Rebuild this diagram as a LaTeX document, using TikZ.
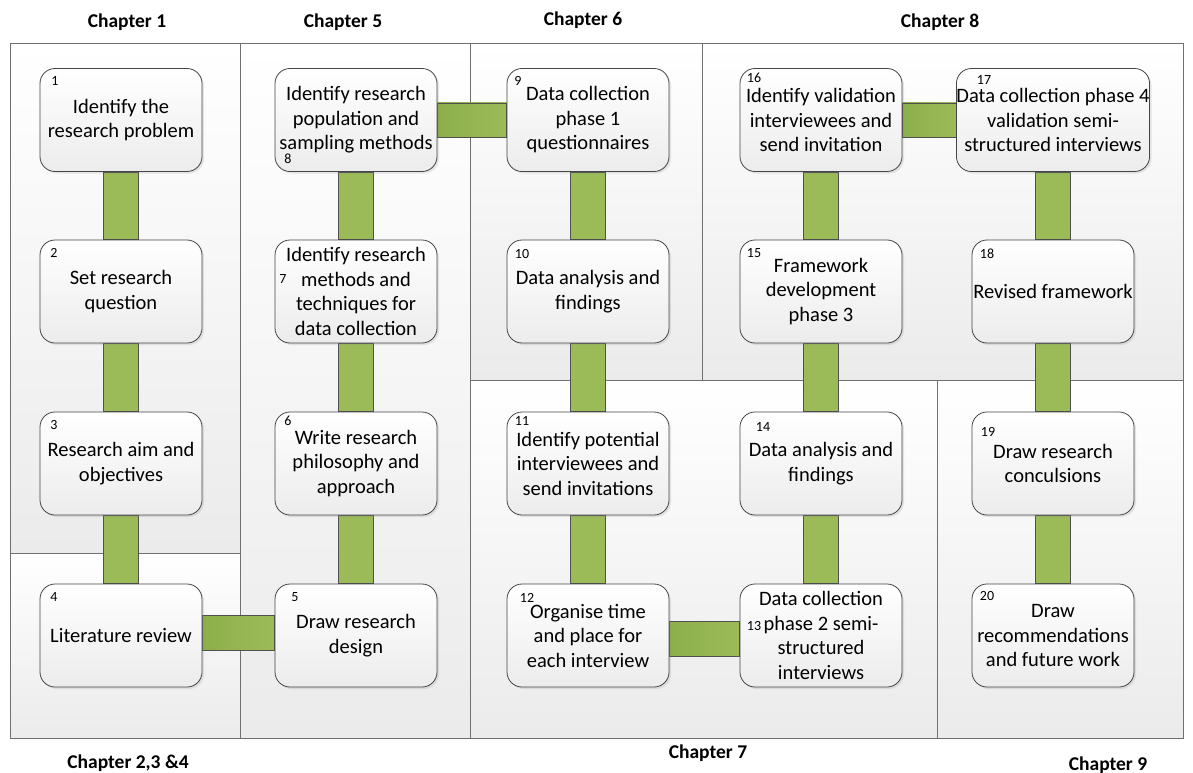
\documentclass[tikz,border=0pt]{standalone}
\usepackage{fontspec}
\setmainfont{Carlito}
\usetikzlibrary{calc,shadows}
\definecolor{panelline}{HTML}{707070}
\definecolor{panelgray}{HTML}{EBEBEB}
\definecolor{boxline}{HTML}{454545}
\definecolor{boxgray}{HTML}{ECECEC}
\definecolor{bargreen}{HTML}{9BBB59}
\definecolor{bardark}{HTML}{8DAF4A}
\definecolor{barline}{HTML}{505050}
\pgfdeclarelayer{panels}
\pgfdeclarelayer{bars}
\pgfsetlayers{panels,bars,main}
\tikzset{
  panel/.style={draw=panelline, line width=0.9pt, top color=white, bottom color=panelgray},
  stepbox/.style={draw=boxline, line width=0.8pt, rounded corners=15pt,
    minimum width=162pt, minimum height=103pt, inner sep=0pt,
    top color=white, bottom color=boxgray,
    drop shadow={opacity=0.18, shadow xshift=2pt, shadow yshift=-2pt},
    font=\fontsize{20.5}{24.5}\selectfont, align=center},
  num/.style={font=\fontsize{14}{16}\selectfont, inner sep=0pt},
  chap/.style={font=\bfseries\fontsize{19.5}{22}\selectfont, inner sep=0pt},
  vbar/.style={draw=barline, line width=0.8pt, fill=bargreen},
  hbar/.style={draw=barline, line width=0.8pt, left color=bardark, right color=bargreen},
}
\begin{document}
\begin{tikzpicture}[x=1pt, y=-1pt]
\useasboundingbox (0,0) rectangle (1193,773);

% chapter panels
\begin{pgfonlayer}{panels}
  \fill[white] (0,0) rectangle (1193,773);
  \draw[panel] (10,43) rectangle (240,553);
  \draw[panel] (10,553) rectangle (240,738);
  \draw[panel] (240,43) rectangle (470,738);
  \draw[panel] (470,43) rectangle (702,380);
  \draw[panel] (702,43) rectangle (1183,380);
  \draw[panel] (470,380) rectangle (937,738);
  \draw[panel] (937,380) rectangle (1183,738);
\end{pgfonlayer}

% chapter titles
\node[chap] (c1)   at (127,22)  {Chapter 1};
\node[chap] (c5)   at (343,22)  {Chapter 5};
\node[chap] (c6)   at (583,20)  {Chapter 6};
\node[chap] (c8)   at (940,22)  {Chapter 8};
\node[chap] (c234) at (128,763) {Chapter 2,3 \&4};
\node[chap] (c7)   at (708,753) {Chapter 7};
\node[chap] (c9)   at (1108,765){Chapter 9};

% research steps
\node[stepbox] (b1)  at (121,120)   {Identify the\\research problem};
\node[stepbox] (b2)  at (121,291.5) {Set research\\question};
\node[stepbox] (b3)  at (121,463.5) {Research aim and\\objectives};
\node[stepbox] (b4)  at (121,635.5) {Literature review};

\node[stepbox] (b5)  at (356,635.5) {Draw research\\design};
\node[stepbox] (b6)  at (356,463.5) {Write research\\philosophy and\\approach};
\node[stepbox] (b7)  at (356,291.5) {Identify research\\methods and\\techniques for\\data collection};
\node[stepbox] (b8)  at (356,120)   {Identify research\\population and\\sampling methods};

\node[stepbox] (b9)  at (588,120)   {Data collection\\phase 1\\questionnaires};
\node[stepbox] (b10) at (588,291.5) {Data analysis and\\findings};
\node[stepbox] (b11) at (588,463.5) {Identify potential\\interviewees and\\send invitations};
\node[stepbox] (b12) at (588,635.5) {Organise time\\and place for\\each interview};

\node[stepbox] (b13) at (821,635.5) {Data collection\\phase 2 semi-\\structured\\interviews};
\node[stepbox] (b14) at (821,463.5) {Data analysis and\\findings};
\node[stepbox] (b15) at (821,291.5) {Framework\\development\\phase 3};
\node[stepbox] (b16) at (821,120)   {Identify validation\\interviewees and\\send invitation};

\node[stepbox] (b17) at (1053,120)   {Data collection phase 4\\validation semi-\\structured interviews};
\node[stepbox] (b18) at (1053,291.5) {Revised framework};
\node[stepbox] (b19) at (1053,463.5) {Draw research\\conculsions};
\node[stepbox] (b20) at (1053,635.5) {Draw\\recommendations\\and future work};

% step numbers
\node[num] (n1)  at (55,81)   {1};
\node[num] (n2)  at (54,253)  {2};
\node[num] (n3)  at (54,425)  {3};
\node[num] (n4)  at (54,597)  {4};
\node[num] (n5)  at (295,597) {5};
\node[num] (n6)  at (288,421) {6};
\node[num] (n7)  at (283,279) {7};
\node[num] (n8)  at (288,159) {8};
\node[num] (n9)  at (518,81)  {9};
\node[num] (n10) at (522,254) {10};
\node[num] (n11) at (522,421) {11};
\node[num] (n12) at (527,598) {12};
\node[num] (n13) at (754,626) {13};
\node[num] (n14) at (763,427) {14};
\node[num] (n15) at (754,253) {15};
\node[num] (n16) at (754,78)  {16};
\node[num] (n17) at (984,80)  {17};
\node[num] (n18) at (987,254) {18};
\node[num] (n19) at (988,432) {19};
\node[num] (n20) at (987,596) {20};

% green connectors between consecutive steps
\begin{pgfonlayer}{bars}
  \foreach \a/\b in {1/2,2/3,3/4,9/10,10/11,11/12,17/18,18/19,19/20}
    \draw[vbar] ($(b\a.south)+(-17.5,0)$) rectangle ($(b\b.north)+(17.5,0)$);
  \foreach \a/\b in {5/6,6/7,7/8,13/14,14/15,15/16}
    \draw[vbar] ($(b\b.south)+(-17.5,0)$) rectangle ($(b\a.north)+(17.5,0)$);
  \draw[hbar] ($(b4.east)+(0,-20.5)$) rectangle ($(b5.west)+(0,14.5)$);
  \draw[hbar] ($(b8.east)+(0,-17)$) rectangle ($(b9.west)+(0,17)$);
  \draw[hbar] ($(b12.east)+(0,-14.5)$) rectangle ($(b13.west)+(0,20.5)$);
  \draw[hbar] ($(b16.east)+(0,-17)$) rectangle ($(b17.west)+(0,17)$);
\end{pgfonlayer}
\end{tikzpicture}
\end{document}
